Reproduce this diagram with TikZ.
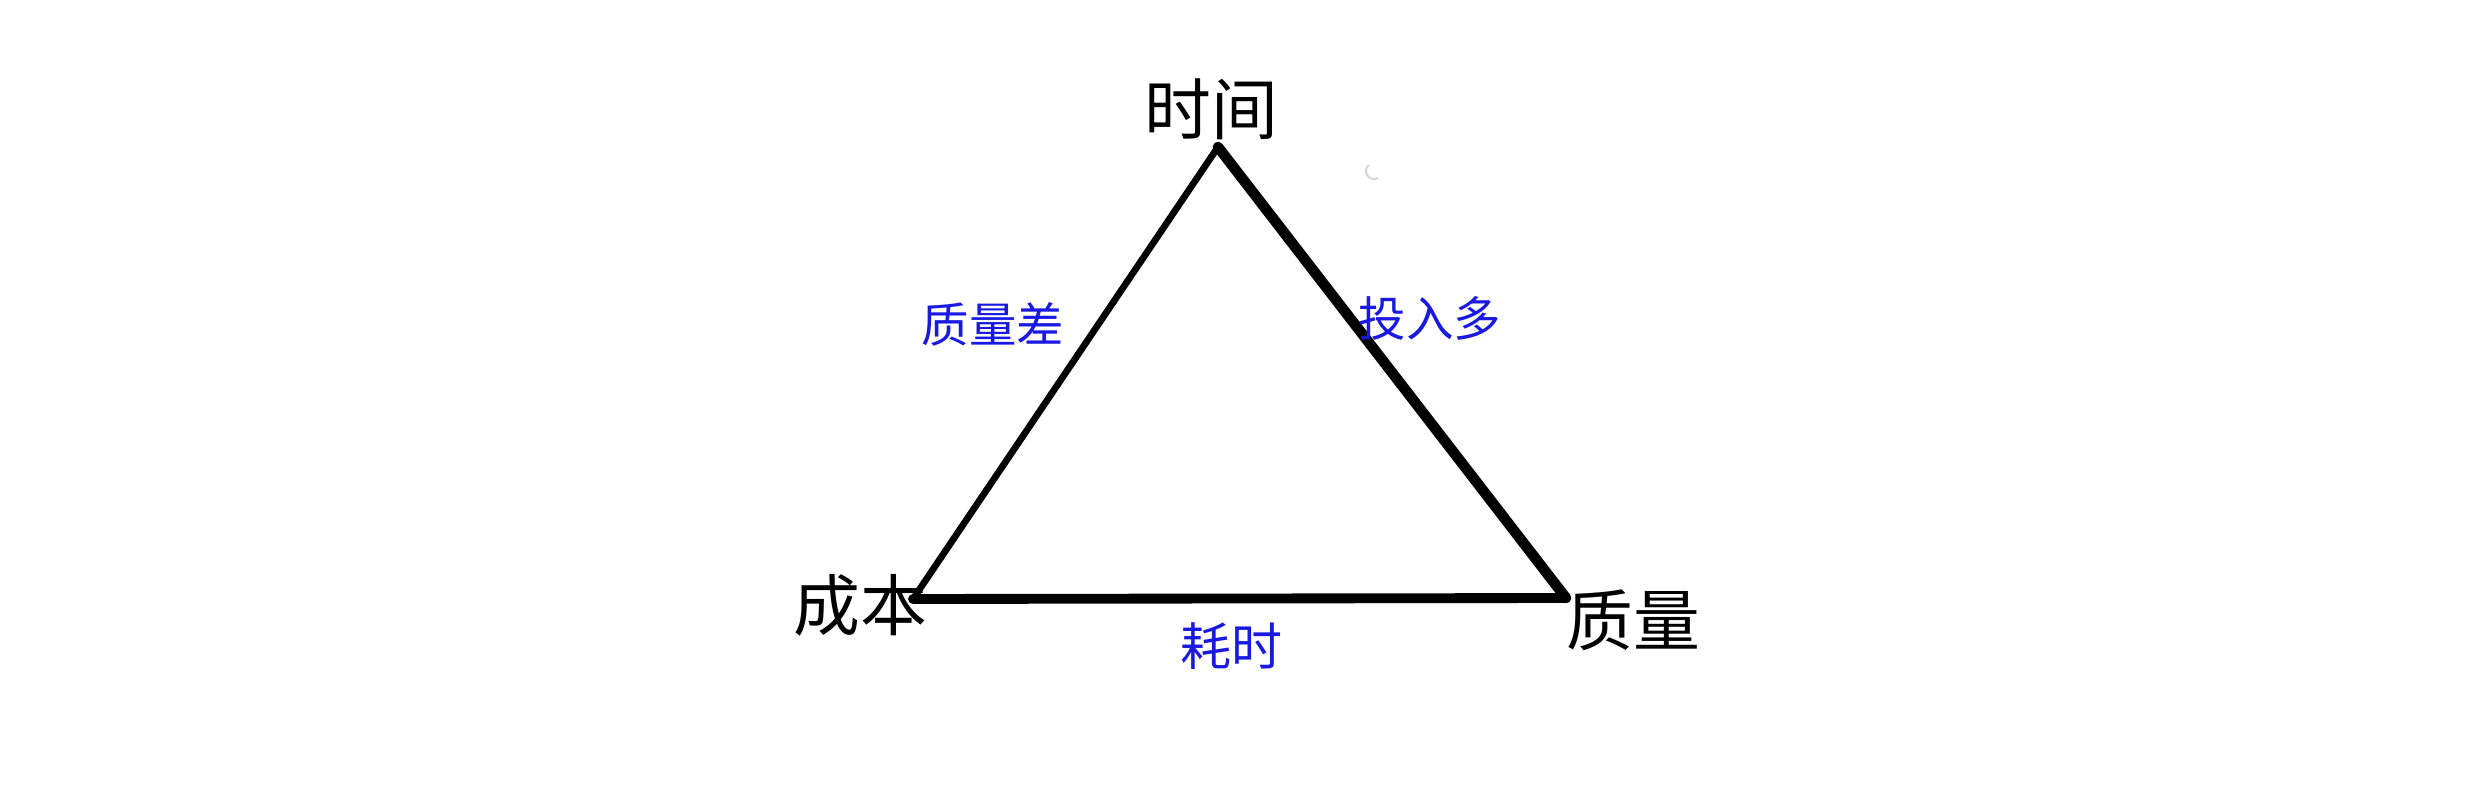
\documentclass[tikz,border=0pt]{standalone}
\usepackage{fontspec}
\newfontfamily\cjk{Noto Sans CJK SC}
\definecolor{penblue}{RGB}{25,25,225}
\tikzset{
  vlabel/.style={font=\cjk\fontsize{19pt}{21pt}\selectfont, text=black, inner sep=0pt},
  elabel/.style={font=\cjk\fontsize{13.5pt}{15pt}\selectfont, text=penblue, inner sep=0pt},
  edge/.style={draw=black, line cap=round, line join=round}
}
\begin{document}
\begin{tikzpicture}[x=0.01cm,y=-0.01cm]
\useasboundingbox[fill=white] (0,0) rectangle (2480,806);
\coordinate (T) at (1218,147);
\coordinate (L) at (913,599);
\coordinate (R) at (1566,598);
\draw[edge, line width=1.9pt] (L) -- (T);
\draw[edge, line width=3.0pt] (T) -- (R);
\draw[edge, line width=2.8pt] (L) -- (R);
\node[vlabel] (tl) at (1211,109) {时间};
\node[vlabel] (cl) at (860,605) {成本};
\node[vlabel] (ql) at (1633,620) {质量};
\node[elabel] (e1) at (993,324) {质量差};
\node[elabel] (e2) at (1430,318) {投入多};
\node[elabel, font=\cjk\fontsize{14.5pt}{16pt}\selectfont] (e3) at (1231,646) {耗时};
\draw[gray!35, line width=0.5pt] (1378,178) arc[start angle=60, end angle=230, radius=8];
\end{tikzpicture}
\end{document}
